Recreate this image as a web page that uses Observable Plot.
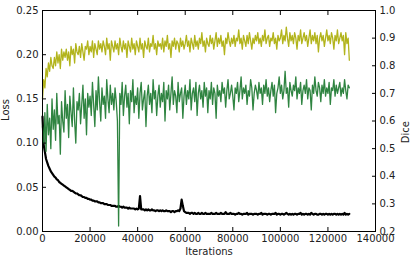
<!DOCTYPE html>
<html><head><meta charset="utf-8">
<script src="https://cdn.jsdelivr.net/npm/d3@7"></script>
<script src="https://cdn.jsdelivr.net/npm/@observablehq/plot@0.6"></script>
<style>
html,body{margin:0;padding:0;background:#fff;}
svg{font-family:"DejaVu Sans",sans-serif;}
</style></head>
<body><div id="chart"></div>
<script>
const step = 500; // iteration spacing of the samples
const xTicks = [0,20000,40000,60000,80000,100000,120000,140000];
const lossTicks = [0,0.05,0.10,0.15,0.20,0.25];
const diceTicks = [0.2,0.3,0.4,0.5,0.6,0.7,0.8,0.9,1.0];

const loss = [
0.130,0.098,0.090,0.082,0.078,0.074,0.071,0.068,0.066,0.064,
0.062,0.061,0.059,0.058,0.056,0.055,0.054,0.053,0.052,0.051,
0.050,0.049,0.048,0.047,0.046,0.046,0.045,0.044,0.043,0.043,
0.042,0.041,0.041,0.040,0.039,0.039,0.038,0.038,0.037,0.037,
0.036,0.036,0.035,0.035,0.034,0.034,0.034,0.033,0.033,0.032,
0.032,0.032,0.031,0.031,0.031,0.030,0.030,0.030,0.029,0.029,
0.029,0.029,0.028,0.028,0.029,0.028,0.028,0.027,0.028,0.027,
0.027,0.027,0.026,0.027,0.026,0.026,0.026,0.026,0.025,0.026,
0.025,0.026,0.040,0.025,0.025,0.025,0.024,0.025,0.024,0.025,
0.024,0.024,0.025,0.024,0.024,0.023,0.024,0.024,0.023,0.024,
0.023,0.024,0.023,0.023,0.024,0.023,0.023,0.023,0.022,0.023,
0.023,0.022,0.023,0.023,0.024,0.023,0.026,0.036,0.029,0.023,
0.022,0.021,0.021,0.021,0.020,0.021,0.021,0.020,0.021,0.020,
0.020,0.021,0.020,0.020,0.021,0.020,0.020,0.021,0.020,0.020,
0.020,0.020,0.021,0.020,0.020,0.020,0.021,0.020,0.020,0.020,
0.021,0.020,0.020,0.020,0.022,0.020,0.020,0.020,0.021,0.020,
0.020,0.020,0.019,0.020,0.020,0.021,0.020,0.020,0.019,0.020,
0.020,0.020,0.021,0.019,0.020,0.020,0.020,0.019,0.020,0.020,
0.020,0.019,0.020,0.020,0.021,0.019,0.020,0.020,0.020,0.019,
0.020,0.020,0.019,0.020,0.020,0.020,0.021,0.019,0.020,0.020,
0.019,0.020,0.020,0.019,0.020,0.021,0.020,0.019,0.020,0.019,
0.020,0.019,0.020,0.020,0.019,0.020,0.020,0.021,0.019,0.020,
0.019,0.020,0.020,0.019,0.020,0.019,0.021,0.020,0.019,0.020,
0.020,0.019,0.019,0.020,0.020,0.019,0.020,0.019,0.020,0.020,
0.019,0.020,0.019,0.020,0.019,0.020,0.020,0.019,0.020,0.019,
0.020,0.019,0.020,0.019,0.021,0.019,0.020,0.019,0.020
];

const diceOlive = [
0.68,0.75,0.72,0.79,0.76,0.81,0.78,0.83,0.80,0.79,
0.83,0.80,0.85,0.81,0.84,0.79,0.86,0.82,0.85,0.83,
0.86,0.82,0.85,0.80,0.87,0.84,0.86,0.81,0.88,0.85,
0.84,0.87,0.83,0.88,0.85,0.82,0.87,0.86,0.89,0.84,
0.87,0.85,0.89,0.83,0.88,0.86,0.84,0.89,0.86,0.88,
0.85,0.89,0.87,0.84,0.90,0.86,0.88,0.82,0.89,0.87,
0.85,0.89,0.86,0.88,0.84,0.90,0.87,0.85,0.89,0.86,
0.88,0.83,0.89,0.87,0.85,0.90,0.86,0.88,0.84,0.89,
0.87,0.85,0.90,0.86,0.88,0.83,0.89,0.87,0.86,0.90,
0.85,0.88,0.87,0.91,0.86,0.88,0.84,0.89,0.87,0.88,
0.86,0.90,0.85,0.89,0.87,0.91,0.86,0.88,0.83,0.89,
0.87,0.90,0.86,0.89,0.88,0.85,0.90,0.87,0.89,0.86,
0.88,0.91,0.87,0.89,0.85,0.90,0.88,0.86,0.91,0.87,
0.89,0.86,0.90,0.88,0.92,0.87,0.89,0.85,0.90,0.88,
0.87,0.91,0.88,0.90,0.86,0.89,0.92,0.87,0.90,0.88,
0.91,0.87,0.89,0.84,0.90,0.88,0.92,0.89,0.87,0.90,
0.88,0.91,0.87,0.90,0.89,0.93,0.88,0.90,0.86,0.91,
0.89,0.87,0.91,0.88,0.92,0.89,0.86,0.90,0.88,0.91,
0.89,0.92,0.88,0.90,0.87,0.91,0.89,0.93,0.88,0.90,
0.91,0.87,0.90,0.89,0.92,0.88,0.90,0.86,0.91,0.89,
0.90,0.93,0.88,0.91,0.89,0.94,0.90,0.87,0.92,0.89,
0.91,0.88,0.92,0.90,0.86,0.91,0.89,0.93,0.88,0.90,
0.92,0.89,0.91,0.87,0.90,0.93,0.88,0.91,0.89,0.92,
0.88,0.91,0.85,0.90,0.92,0.89,0.91,0.87,0.90,0.93,
0.89,0.91,0.88,0.92,0.90,0.86,0.91,0.89,0.93,0.88,
0.90,0.92,0.89,0.91,0.84,0.92,0.88,0.90,0.82
];

const diceGreen = [
0.58,0.52,0.63,0.49,0.66,0.55,0.61,0.50,0.68,0.57,
0.64,0.53,0.70,0.59,0.62,0.48,0.67,0.60,0.56,0.71,
0.61,0.66,0.54,0.69,0.63,0.58,0.72,0.60,0.52,0.67,
0.64,0.70,0.59,0.66,0.73,0.61,0.68,0.55,0.70,0.65,
0.69,0.62,0.74,0.66,0.58,0.71,0.64,0.76,0.67,0.60,
0.72,0.66,0.69,0.61,0.75,0.68,0.63,0.73,0.66,0.70,
0.64,0.72,0.67,0.60,0.22,0.70,0.66,0.74,0.62,0.69,
0.73,0.65,0.70,0.59,0.71,0.67,0.75,0.63,0.69,0.66,
0.72,0.61,0.70,0.74,0.64,0.68,0.71,0.58,0.69,0.73,
0.66,0.70,0.63,0.75,0.68,0.71,0.62,0.69,0.73,0.65,
0.70,0.67,0.74,0.60,0.71,0.68,0.73,0.64,0.70,0.76,
0.66,0.71,0.69,0.63,0.74,0.67,0.70,0.72,0.61,0.69,
0.73,0.66,0.71,0.68,0.75,0.64,0.70,0.72,0.67,0.74,
0.62,0.70,0.73,0.68,0.71,0.65,0.74,0.69,0.72,0.63,
0.71,0.68,0.74,0.66,0.72,0.70,0.61,0.73,0.69,0.71,
0.67,0.74,0.70,0.72,0.65,0.71,0.75,0.68,0.70,0.73,
0.69,0.64,0.72,0.70,0.74,0.67,0.71,0.76,0.68,0.72,
0.70,0.73,0.66,0.71,0.69,0.75,0.72,0.64,0.70,0.73,
0.71,0.68,0.74,0.70,0.72,0.66,0.73,0.70,0.75,0.69,
0.72,0.67,0.71,0.74,0.69,0.73,0.63,0.70,0.72,0.76,
0.70,0.73,0.68,0.71,0.78,0.70,0.72,0.65,0.74,0.71,
0.69,0.73,0.71,0.76,0.68,0.72,0.70,0.74,0.66,0.71,
0.73,0.70,0.75,0.68,0.72,0.71,0.64,0.73,0.70,0.76,
0.71,0.69,0.74,0.72,0.67,0.73,0.70,0.75,0.69,0.72,
0.70,0.74,0.66,0.72,0.71,0.75,0.69,0.73,0.70,0.72,
0.74,0.69,0.72,0.70,0.75,0.71,0.68,0.73,0.72
];

// map Dice (0.2..1.0) onto the Loss axis range (0..0.25) for the twin axis
const d2l = d => (d - 0.2) / 0.8 * 0.25;
const l2d = l => l / 0.25 * 0.8 + 0.2;

const lossData = loss.map((v, i) => ({it: i * step, v}));
const oliveData = diceOlive.map((v, i) => ({it: i * step, v: d2l(v)}));
const greenData = diceGreen.map((v, i) => ({it: i * step, v: d2l(v)}));

const ink = "#222";
const chart = Plot.plot({
  width: 410, height: 262,
  marginLeft: 42, marginRight: 35, marginTop: 10, marginBottom: 31,
  style: {fontSize: "10px", fontFamily: "DejaVu Sans, sans-serif", color: ink, background: "#fff"},
  x: {domain: [0, 140000], label: null},
  y: {domain: [0, 0.25], label: null},
  marks: [
    Plot.lineY(lossData, {x: "it", y: "v", stroke: "#000", strokeWidth: 2.2}),
    Plot.lineY(oliveData, {x: "it", y: "v", stroke: "#b2b41c", strokeWidth: 1.3}),
    Plot.lineY(greenData, {x: "it", y: "v", stroke: "#1d7a31", strokeWidth: 1.3, strokeOpacity: 0.92}),
    Plot.frame({stroke: "#000", strokeWidth: 1}),
    Plot.axisX({ticks: xTicks, tickSize: -4, tickPadding: 7, tickFormat: d => String(d), label: null, stroke: "#000", fill: ink}),
    Plot.axisX({anchor: "top", ticks: xTicks, tickSize: -4, tickFormat: () => "", label: null, stroke: "#000"}),
    Plot.axisY({ticks: lossTicks, tickSize: -4, tickPadding: 8, tickFormat: d => d.toFixed(2), label: null, stroke: "#000", fill: ink}),
    Plot.axisY({anchor: "right", ticks: diceTicks.map(d2l), tickSize: -4, tickPadding: 8, tickFormat: v => l2d(v).toFixed(1), label: null, stroke: "#000", fill: ink}),
    Plot.text(["Loss"], {frameAnchor: "left", dx: -37, rotate: -90, fill: ink, fontSize: 10}),
    Plot.text(["Dice"], {frameAnchor: "right", dx: 30, rotate: -90, fill: ink, fontSize: 10}),
    Plot.text(["Iterations"], {frameAnchor: "bottom", dy: 23, fill: ink, fontSize: 10})
  ]
});
document.getElementById("chart").appendChild(chart);
</script>
</body></html>
